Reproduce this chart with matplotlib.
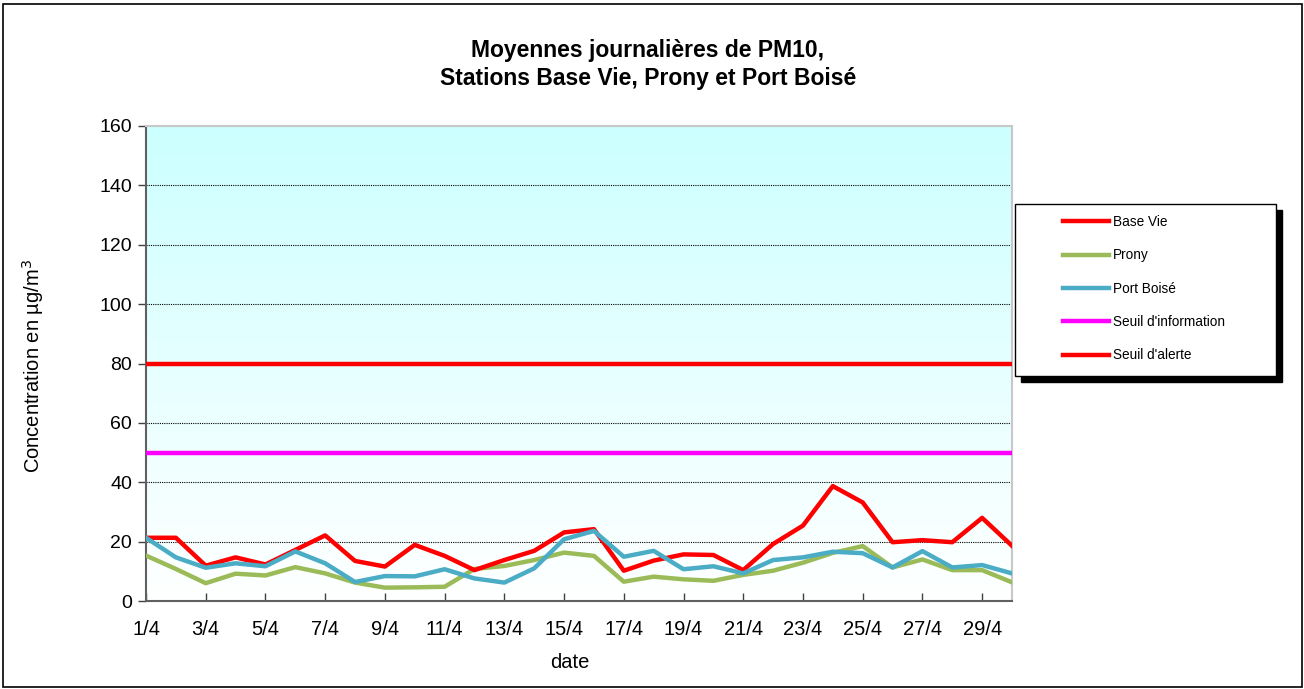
import numpy as np
import matplotlib
matplotlib.use("Agg")
import matplotlib.pyplot as plt
from matplotlib.colors import LinearSegmentedColormap
from matplotlib.patches import Rectangle
from matplotlib.lines import Line2D

plt.rcParams['font.family'] = ['Liberation Sans', 'DejaVu Sans']

days = list(range(1, 31))
tick_days = list(range(1, 30, 2))
tick_labels = [f"{d}/4" for d in tick_days]

base_vie = [21.3, 21.3, 11.9, 14.7, 12.3, 17.2, 22.1, 13.5, 11.6, 18.9,
            15.2, 10.4, 13.8, 16.9, 23.1, 24.2, 10.2, 13.6, 15.7, 15.5,
            10.4, 19.2, 25.4, 38.7, 33.2, 19.8, 20.5, 19.8, 28.0, 18.6]
prony = [15.3, 10.8, 6.0, 9.2, 8.6, 11.4, 9.3, 6.2, 4.5, 4.6,
         4.8, 10.8, 11.8, 13.8, 16.3, 15.2, 6.5, 8.2, 7.3, 6.8,
         8.8, 10.2, 12.9, 16.2, 18.5, 11.3, 14.0, 10.4, 10.4, 6.3]
port_boise = [21.3, 14.7, 11.2, 12.7, 11.7, 16.7, 12.7, 6.4, 8.4, 8.3,
              10.7, 7.6, 6.2, 11.0, 20.8, 23.6, 14.9, 16.9, 10.7, 11.7,
              9.3, 13.8, 14.7, 16.6, 16.1, 11.3, 16.8, 11.3, 12.1, 9.3]
seuil_information = 50
seuil_alerte = 80

W, H = 1304, 689
fig = plt.figure(figsize=(W / 100, H / 100), dpi=100)
fig.patch.set_facecolor('white')

# outer frame
fig.add_artist(Rectangle((3 / W, 2 / H), 1299 / W, 683 / H, transform=fig.transFigure,
                         fill=False, edgecolor='black', linewidth=1.2))

left, right, bottom, top = 146, 1012, 601, 126
ax = fig.add_axes([left / W, (H - bottom) / H, (right - left) / W, (bottom - top) / H])

ax.set_xlim(1, 30)
ax.set_ylim(0, 160)

# gradient background
cmap = LinearSegmentedColormap.from_list('bg', ['#FFFFFF', '#CCFFFF'])
grad = np.linspace(0, 1, 256).reshape(-1, 1)
ax.imshow(grad, extent=[1, 30, 0, 160], origin='lower', aspect='auto', cmap=cmap, zorder=0)

# grid
for yv in range(20, 160, 20):
    ax.axhline(yv, color='black', linestyle=(0, (1, 1)), linewidth=0.8, zorder=1)

lw = 3.2
ax.plot(days, [seuil_alerte] * len(days), color='#FF0000', linewidth=lw, zorder=3, solid_capstyle='butt')
ax.plot(days, [seuil_information] * len(days), color='#FF00FF', linewidth=lw, zorder=3, solid_capstyle='butt')
ax.plot(days, prony, color='#9BBB59', linewidth=lw, zorder=4)
ax.plot(days, base_vie, color='#FF0000', linewidth=lw, zorder=5)
ax.plot(days, port_boise, color='#4BACC6', linewidth=lw, zorder=6)

ax.set_xticks(tick_days)
ax.set_xticklabels(tick_labels, fontsize=14.5)
ax.set_yticks(range(0, 161, 20))
ax.set_yticklabels([str(v) for v in range(0, 161, 20)], fontsize=14)
ax.tick_params(axis='x', direction='in', length=6, width=1, color='#404040', pad=14)
ax.tick_params(axis='y', direction='out', length=6, width=1, color='#404040', pad=4)

for s in ['left', 'bottom']:
    ax.spines[s].set_color('#606060')
    ax.spines[s].set_linewidth(1.5)
for s in ['top', 'right']:
    ax.spines[s].set_color('#C8C8C8')
    ax.spines[s].set_linewidth(1.5)

fig.text(570 / W, 1 - 663 / H, 'date', fontsize=14.5, ha='center', va='center')
fig.text(33 / W, 1 - 366 / H, 'Concentration en µg/m$^3$', rotation=90, fontsize=14.5,
         ha='center', va='center')

fig.text(648 / W, 1 - 51 / H, 'Moyennes journalières de PM10,', fontsize=16.5, fontweight='bold',
         ha='center', va='center')
fig.text(648 / W, 1 - 79 / H, 'Stations Base Vie, Prony et Port Boisé', fontsize=16.5, fontweight='bold',
         ha='center', va='center')

# legend box with shadow
fig.add_artist(Rectangle((1021 / W, 1 - 382 / H), 261 / W, 172 / H, transform=fig.transFigure,
                         facecolor='black', edgecolor='black', zorder=9))
fig.add_artist(Rectangle((1015 / W, 1 - 376 / H), 261 / W, 172 / H, transform=fig.transFigure,
                         facecolor='white', edgecolor='black', linewidth=1, zorder=10))

handles = [Line2D([], [], color='#FF0000', linewidth=lw),
           Line2D([], [], color='#9BBB59', linewidth=lw),
           Line2D([], [], color='#4BACC6', linewidth=lw),
           Line2D([], [], color='#FF00FF', linewidth=lw),
           Line2D([], [], color='#FF0000', linewidth=lw)]
labels = ['Base Vie', 'Prony', 'Port Boisé', "Seuil d'information", "Seuil d'alerte"]
leg = fig.legend(handles, labels, loc='upper left', bbox_to_anchor=(1063 / W, 1 - 215 / H),
                 frameon=False, fontsize=9.8, handlelength=3.4, handletextpad=0.3,
                 labelspacing=1.42, borderpad=0, borderaxespad=0)
leg.set_zorder(11)

fig.savefig('out.png', dpi=100)
